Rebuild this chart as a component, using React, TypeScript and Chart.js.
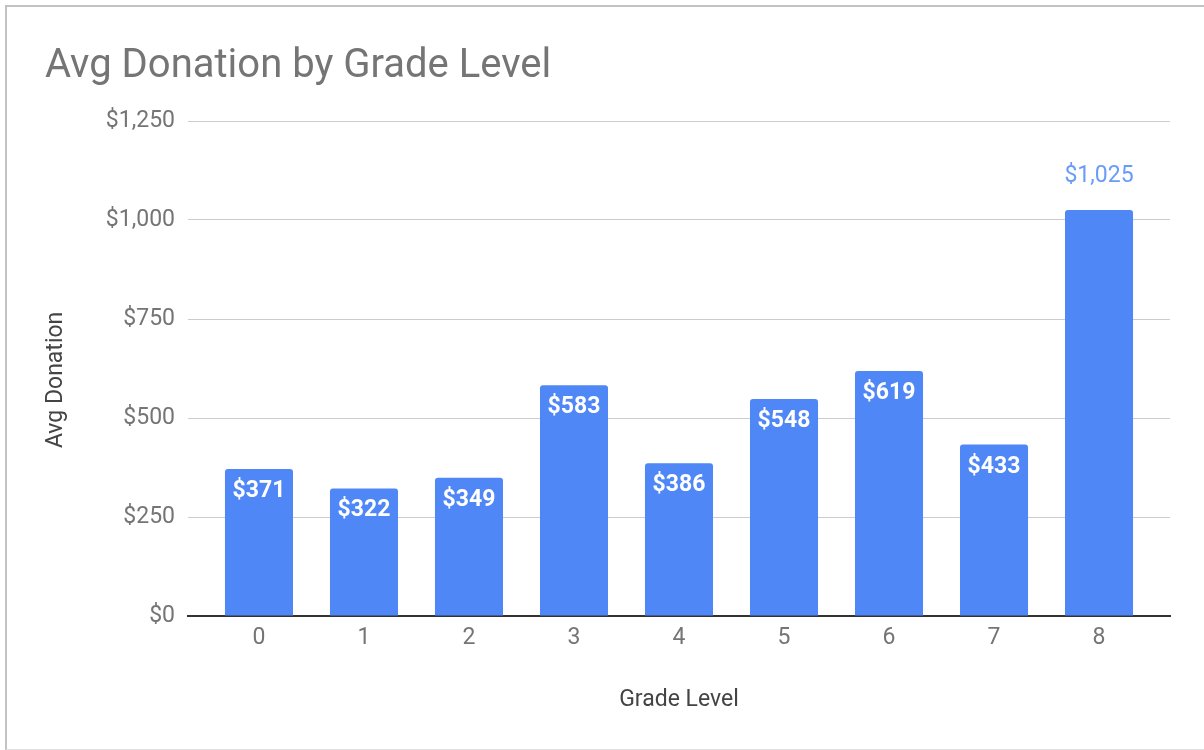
import React, { useEffect, useRef } from "react";
import { Chart, registerables } from "chart.js";

Chart.register(...registerables);

const categories = ["0", "1", "2", "3", "4", "5", "6", "7", "8"];
const avgDonation = [371, 322, 349, 583, 386, 548, 619, 433, 1025];
const yTicks = [0, 250, 500, 750, 1000, 1250];

const chartTitle = "Avg Donation by Grade Level";
const xTitle = "Grade Level";
const yTitle = "Avg Donation";

const BAR = "#4f87f7";
const FONT = "Roboto, 'Noto Sans', sans-serif";

const fmt = (v: number) => "$" + v.toLocaleString("en-US");

const valueLabels = {
  id: "valueLabels",
  afterDatasetsDraw(chart: any) {
    const ctx = chart.ctx;
    const meta = chart.getDatasetMeta(0);
    const maxV = Math.max(...avgDonation);
    ctx.save();
    ctx.textAlign = "center";
    ctx.textBaseline = "alphabetic";
    meta.data.forEach((bar: any, i: number) => {
      const v = avgDonation[i];
      const p = bar.getProps(["x", "y"], true);
      if (v === maxV) {
        ctx.font = `400 23px ${FONT}`;
        ctx.fillStyle = "#6a9bf8";
        ctx.fillText(fmt(v), p.x, p.y - 28);
      } else {
        ctx.font = `700 23px ${FONT}`;
        ctx.fillStyle = "#ffffff";
        ctx.fillText(fmt(v), p.x, p.y + 28);
      }
    });
    ctx.restore();
  },
};

export default function App() {
  const ref = useRef<HTMLCanvasElement | null>(null);

  useEffect(() => {
    if (!ref.current) return;
    const chart = new Chart(ref.current, {
      type: "bar",
      data: {
        datasets: [
          {
            label: yTitle,
            data: avgDonation.map((v, i) => ({ x: i, y: v })),
            backgroundColor: BAR,
            borderWidth: 0,
            borderRadius: { topLeft: 3, topRight: 3, bottomLeft: 0, bottomRight: 0 },
            borderSkipped: "start",
            categoryPercentage: 1,
            barPercentage: 0.648,
          },
        ],
      },
      options: {
        responsive: false,
        animation: false,
        devicePixelRatio: 1,
        layout: { padding: { left: 45, right: 34, top: 0, bottom: 0 } },
        plugins: {
          legend: { display: false },
          tooltip: { enabled: false },
          title: {
            display: true,
            text: chartTitle,
            align: "start",
            color: "#757575",
            font: { family: FONT, size: 40, weight: "400" },
            padding: { top: 43, bottom: 30 },
          },
        },
        scales: {
          x: {
            type: "linear",
            offset: false,
            min: -0.676,
            max: categories.length - 1 + 0.676,
            afterBuildTicks: (scale: any) => {
              scale.ticks = categories.map((_, i) => ({ value: i }));
            },
            afterFit: (scale: any) => {
              scale.height = 134;
            },
            grid: { display: false, drawTicks: false, offset: false },
            border: { display: true, color: "#333333", width: 2 },
            ticks: {
              color: "#757575",
              padding: 8,
              autoSkip: false,
              maxRotation: 0,
              font: { family: FONT, size: 23 },
              callback: (v: any) => categories[Number(v)] ?? "",
            },
            title: {
              display: true,
              text: xTitle,
              color: "#444444",
              font: { family: FONT, size: 23 },
              padding: { top: 0, bottom: 36 },
            },
          },
          y: {
            min: 0,
            max: yTicks[yTicks.length - 1],
            afterBuildTicks: (scale: any) => {
              scale.ticks = yTicks.map((v) => ({ value: v }));
            },
            afterFit: (scale: any) => {
              scale.width = 143;
            },
            grid: { color: "#cccccc", lineWidth: 1, drawTicks: false },
            border: { display: false },
            ticks: {
              color: "#757575",
              padding: 13,
              font: { family: FONT, size: 23 },
              callback: (v: any) => fmt(Number(v)),
            },
            title: {
              display: true,
              text: yTitle + "    ",
              color: "#444444",
              font: { family: FONT, size: 23 },
              padding: { top: -3, bottom: 0 },
            },
          },
        },
      },
      plugins: [valueLabels],
    } as any);
    return () => chart.destroy();
  }, []);

  return (
    <div
      style={{
        position: "fixed",
        left: 0,
        top: 0,
        width: 1204,
        height: 750,
        background: "#ffffff",
        overflow: "hidden",
      }}
    >
      <canvas ref={ref} width={1204} height={750} style={{ display: "block" }} />
      <div
        style={{
          position: "absolute",
          left: 5,
          top: 5,
          width: 1210,
          height: 745,
          boxSizing: "border-box",
          borderTop: "2px solid #c2c2c2",
          borderLeft: "2px solid #c2c2c2",
          borderBottom: "1px solid #e0e0e0",
          pointerEvents: "none",
        }}
      />
    </div>
  );
}
